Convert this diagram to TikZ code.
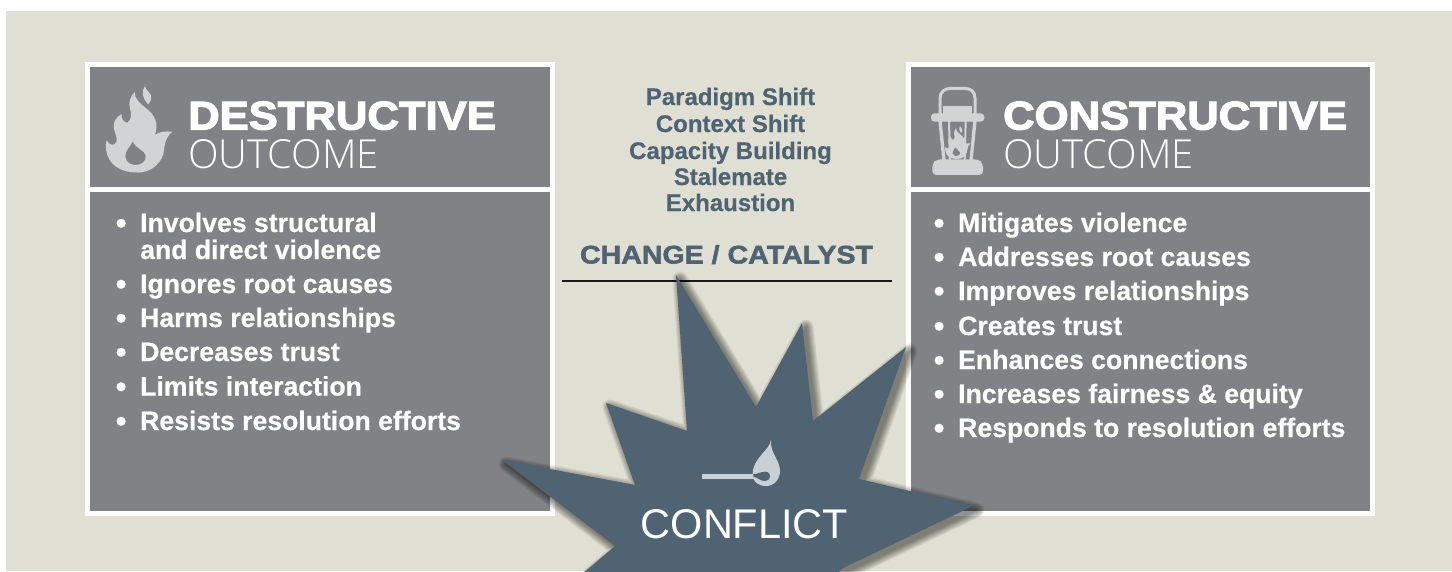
\documentclass[tikz,border=0pt]{standalone}
\usepackage{fontspec}
\setmainfont{Liberation Sans}
\newfontfamily\heavyfont[FakeStretch=1.09,FakeBold=3]{Liberation Sans}
\newfontfamily\catfont[FakeStretch=1.12,FakeBold=2]{Liberation Sans}
\newfontfamily\bodyfont[FakeBold=0.5]{Liberation Sans}
\newfontfamily\lightfont[UprightFont={* Light}]{Open Sans}
\usetikzlibrary{calc}
\definecolor{bgc}{HTML}{DFDFD3}
\definecolor{panelc}{HTML}{808285}
\definecolor{slate}{HTML}{4F6373}
\definecolor{iconc}{HTML}{D1D3D4}
\definecolor{matchc}{HTML}{C8D0D5}
\newcommand{\flamepath}{
  (105,272) .. controls (150,275) and (185,240) .. (187,205)
  .. controls (190,175) and (200,160) .. (212,152)
  .. controls (190,150) and (172,152) .. (160,162)
  .. controls (172,130) and (160,105) .. (140,88)
  .. controls (115,68) and (100,55) .. (100,35)
  .. controls (88,50) and (82,65) .. (86,80)
  .. controls (92,100) and (92,118) .. (78,126)
  .. controls (66,122) and (60,112) .. (62,100)
  .. controls (45,110) and (35,125) .. (40,145)
  .. controls (45,165) and (55,180) .. (40,190)
  .. controls (30,192) and (22,185) .. (18,178)
  .. controls (10,205) and (20,270) .. (105,272) -- cycle
  (95,180) .. controls (90,195) and (72,205) .. (73,225)
  .. controls (75,245) and (92,250) .. (103,250)
  .. controls (120,250) and (135,240) .. (133,222)
  .. controls (130,205) and (105,205) .. (95,180) -- cycle
  (131,18) .. controls (120,32) and (122,50) .. (140,72)
  .. controls (152,58) and (152,44) .. (142,36)
  .. controls (136,30) and (132,25) .. (131,18) -- cycle
}
\newcommand{\starpath}{
  (676,275) -- (756,407) -- (802,323) -- (813,421) -- (906,347) -- (859,479) -- (973,506)
  -- (843,568) -- (830,580) -- (575,580) -- (615,546) -- (502,460) -- (635,485)
  -- (606,403) -- (687,431) -- cycle
}
\newcommand{\bulletmark}{\makebox[23pt][l]{\hspace*{-1.5pt}\raisebox{-1.5pt}[0pt][0pt]{\fontsize{31}{27}\selectfont•}}}
\tikzset{
  panel/.style={fill=panelc,draw=none},
  framebox/.style={fill=white,draw=none},
  heading/.style={anchor=base west,inner sep=0pt,text=white,font=\heavyfont\bfseries\fontsize{40}{40}\selectfont},
  subheading/.style={anchor=base west,inner sep=0pt,text=white,font=\lightfont\fontsize{40}{40}\selectfont},
  item/.style={anchor=base west,inner sep=0pt,text=white,font=\bodyfont\bfseries\fontsize{26.6}{27}\selectfont},
  centerline/.style={anchor=base,inner sep=0pt,text=slate,font=\bodyfont\bfseries\fontsize{24}{24}\selectfont},
}
\begin{document}
\begin{tikzpicture}[x=1pt,y=-1pt]
\useasboundingbox (0,0) rectangle (1452,571);
\clip (0,0) rectangle (1452,571);
\fill[white] (0,0) rectangle (1452,571);
\fill[bgc] (6,11) rectangle (1452,571);
% panels
\fill[framebox] (85,62) rectangle (555,516);
\fill[panel] (90,67) rectangle (550,187);
\fill[panel] (90,192) rectangle (550,511);
\fill[framebox] (906,62) rectangle (1375,516);
\fill[panel] (911,67) rectangle (1370,187);
\fill[panel] (911,192) rectangle (1370,511);
% flame icon
\begin{scope}[shift={(100.5,80)},x=0.34pt,y=-0.34pt]
\fill[iconc,even odd rule] \flamepath;
\end{scope}
% lantern icon
\begin{scope}[shift={(925,80)},x=0.3333pt,y=-0.3333pt]
\draw[iconc,line width=3pt] (45,102) -- (45,55) .. controls (45,35) and (60,25) .. (78,25) -- (118,25) .. controls (138,25) and (150,35) .. (150,55) -- (150,102);
\fill[iconc] (55,78) rectangle (140,102);
\fill[iconc,rounded corners=3.5pt] (18,100) rectangle (178,125);
\fill[iconc] (40,122) -- (50,122) -- (62,242) -- (52,242) -- cycle;
\fill[iconc] (155,122) -- (145,122) -- (133,242) -- (143,242) -- cycle;
\fill[iconc] (69,122) -- (75,122) -- (78,242) -- (72,242) -- cycle;
\fill[iconc] (125,122) -- (119,122) -- (116,242) -- (122,242) -- cycle;
\fill[iconc,rounded corners=4pt] (35,238) -- (160,238) -- (174,250) -- (174,285) -- (22,285) -- (22,250) -- cycle;
\begin{scope}[shift={(54,131)},x=0.13pt,y=-0.13pt]
\fill[iconc,even odd rule] \flamepath;
\end{scope}
\end{scope}
% headings
\node[heading] (dtitle) at (188,129.5) {DESTRUCTIVE};
\node[subheading] (dsub) at (188,168) {OUTCOME};
\node[heading] (ctitle) at (1003,129.5) {CONSTRUCTIVE};
\node[subheading] (csub) at (1003,168) {OUTCOME};
% left list
\foreach \n/\yy/\t in {a/232/Involves structural,c/293/Ignores root causes,d/327/Harms relationships,e/361/Decreases trust,f/395.5/Limits interaction,g/430/Resists resolution efforts}
  \node[item] (l\n) at (117,\yy) {\bulletmark\t};
\node[item] (lb) at (140,259) {and direct violence};
% right list
\foreach \n/\yy/\t in {a/232/Mitigates violence,b/266/Addresses root causes,c/300/Improves relationships,d/335/Creates trust,e/369/Enhances connections,f/403/Increases fairness \& equity,g/437/Responds to resolution efforts}
  \node[item] (r\n) at (935,\yy) {\bulletmark\t};
% centre
\foreach \n/\yy/\t in {a/105/Paradigm Shift,b/132/Context Shift,c/159/Capacity Building,d/185/Stalemate,e/211/Exhaustion}
  \node[centerline] (m\n) at (730.5,\yy) {\t};
\node[anchor=base,inner sep=0pt,text=slate,font=\catfont\bfseries\fontsize{25.5}{25.5}\selectfont] (cat) at (726.5,263.5) {CHANGE / CATALYST};
\coordinate (rulea) at (562,281);
\coordinate (ruleb) at (892,281);
\draw[line width=2.6pt,color=black!90] (rulea) -- (ruleb);
% star shadow
\begin{scope}[shift={(4,4)}]
\foreach \w in {15,13,11,9,7,5,3,1}{
  \begin{scope}[transparency group,opacity=0.065]
  \path[fill=black,draw=black,line width=\w pt,line join=round] \starpath;
  \end{scope}
}
\end{scope}
\fill[slate] \starpath;
% match
\begin{scope}[shift={(695,435)},x=0.3333pt,y=-0.3333pt]
\fill[matchc] (20,116) rectangle (176,131);
\fill[matchc] (228,15) .. controls (225,45) and (172,70) .. (173,118) .. controls (172,140) and (190,153) .. (213,153)
  .. controls (240,153) and (256,130) .. (255,105) .. controls (252,70) and (225,55) .. (228,15) -- cycle;
\fill[slate] (175,117) .. controls (190,118) and (195,110) .. (210,110) .. controls (230,110) and (232,135) .. (210,138)
  .. controls (195,138) and (190,128) .. (175,125) -- cycle;
\end{scope}
\node[anchor=base,inner sep=0pt,text=white,font=\fontsize{41.5}{42}\selectfont] (conflict) at (744.5,538) {CONFLICT};
\end{tikzpicture}
\end{document}
